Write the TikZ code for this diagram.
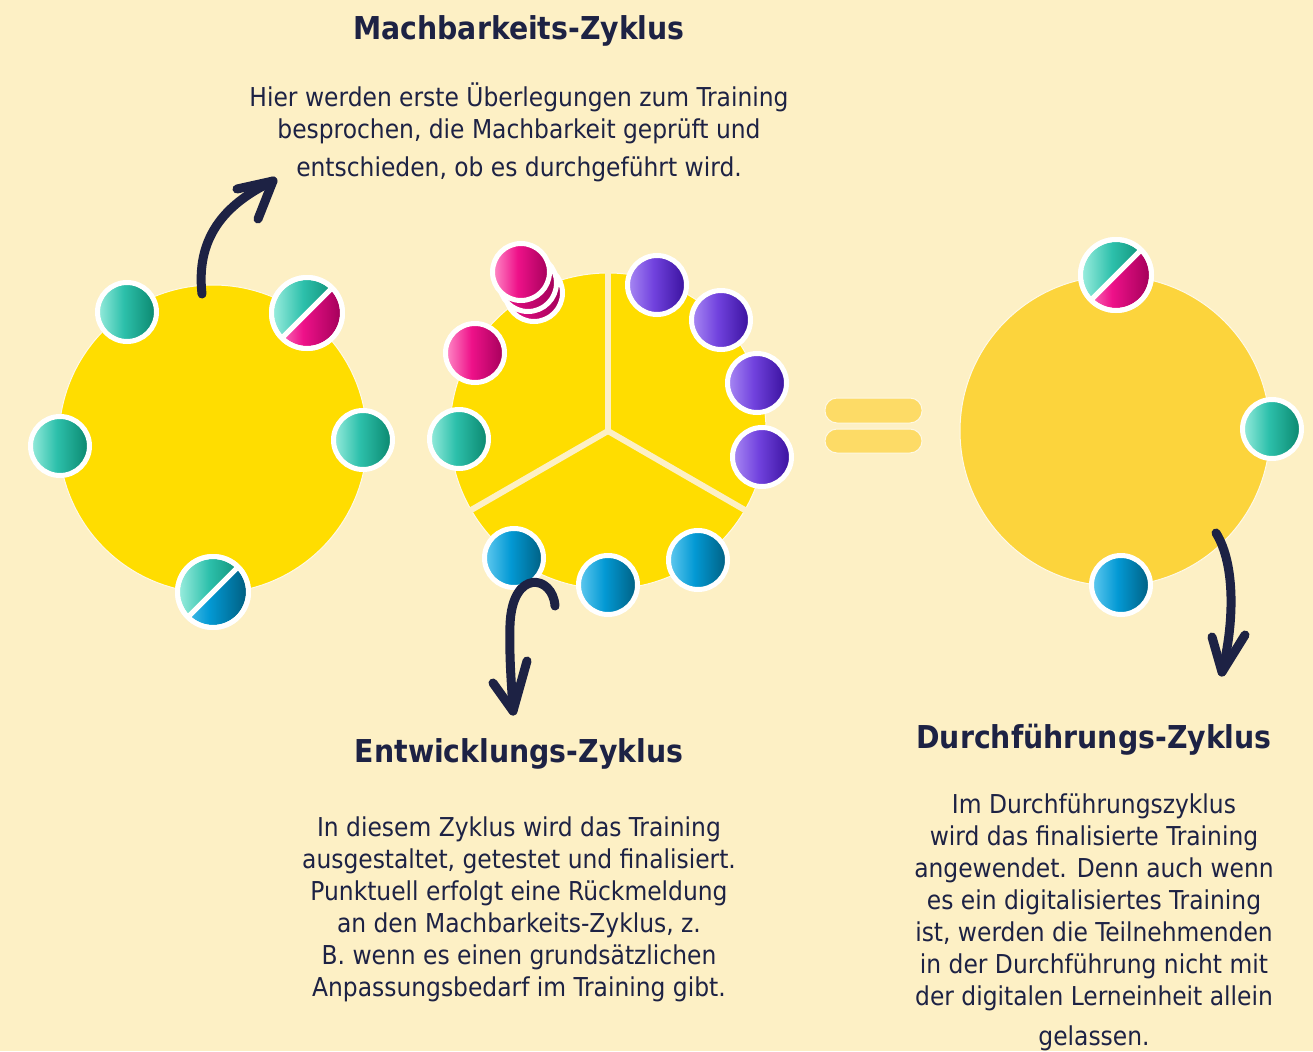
\documentclass[tikz,border=0pt]{standalone}
\usepackage{fontspec}
\setmainfont{DejaVu Sans Condensed}
\usetikzlibrary{calc}
\definecolor{bg}{HTML}{FDF0C5}
\definecolor{ink}{HTML}{1D2244}
\definecolor{sunA}{HTML}{FFDD00}
\definecolor{sunB}{HTML}{FCD43C}
\definecolor{eqc}{HTML}{FDDB66}
\definecolor{tealL}{HTML}{98ECDD}
\definecolor{tealM}{HTML}{2DC0AB}
\definecolor{tealR}{HTML}{0A866D}
\definecolor{pinkL}{HTML}{FF8CC8}
\definecolor{pinkM}{HTML}{EE1189}
\definecolor{pinkR}{HTML}{A3005A}
\definecolor{purpL}{HTML}{A98AF4}
\definecolor{purpM}{HTML}{7142DE}
\definecolor{purpR}{HTML}{38109C}
\definecolor{bluL}{HTML}{62CAF0}
\definecolor{bluM}{HTML}{0399D4}
\definecolor{bluR}{HTML}{005E80}
\pgfdeclarehorizontalshading{tealsh}{100bp}{color(0bp)=(tealL); color(25bp)=(tealL); color(47bp)=(tealM); color(75bp)=(tealR); color(100bp)=(tealR)}
\pgfdeclarehorizontalshading{pinksh}{100bp}{color(0bp)=(pinkL); color(25bp)=(pinkL); color(47bp)=(pinkM); color(75bp)=(pinkR); color(100bp)=(pinkR)}
\pgfdeclarehorizontalshading{purpsh}{100bp}{color(0bp)=(purpL); color(25bp)=(purpL); color(47bp)=(purpM); color(75bp)=(purpR); color(100bp)=(purpR)}
\pgfdeclarehorizontalshading{blush}{100bp}{color(0bp)=(bluL); color(25bp)=(bluL); color(47bp)=(bluM); color(75bp)=(bluR); color(100bp)=(bluR)}
\pgfdeclarehorizontalshading{pinkdk}{100bp}{color(0bp)=(pinkM); color(25bp)=(pinkM); color(75bp)=(pinkR); color(100bp)=(pinkR)}
\tikzset{
  dotnode/.style={circle, inner sep=0pt, outer sep=0pt, draw=white, line width=5pt},
  bigcirc/.style={circle, inner sep=0pt, draw=white!60!bg, line width=1pt},
  arr/.style={draw=ink, line width=9pt, line cap=round, line join=round},
  ttl/.style={text=ink, font=\fontsize{31.5}{38}\selectfont\bfseries, align=center},
  para/.style={text=ink, font=\fontsize{26}{32}\selectfont, align=center},
  eqbar/.style={fill=eqc, draw=white!50!bg, line width=1pt, rounded corners=12pt}
}
\newcommand\pdot[3]{\node[dotnode, shading=#3sh, minimum size=59pt] (#1) at (#2) {};}
\newcommand\sdot[3]{%
  \node[dotnode, fill=white, minimum size=71pt] (#1) at (#2) {};
  \begin{scope}
    \clip (#2) circle (33);
    \shade[shading=tealsh] ($(#2)+(-34,34)$) -- ($(#2)+(34,-34)$) -- ($(#2)+(-34,-34)$) -- cycle;
    \shade[shading=#3sh] ($(#2)+(-34,34)$) -- ($(#2)+(34,-34)$) -- ($(#2)+(34,34)$) -- cycle;
    \draw[white, line width=5pt] ($(#2)+(-40,40)$) -- ($(#2)+(40,-40)$);
  \end{scope}
  \draw[white, line width=5pt] (#2) circle (35.5);
}
\begin{document}
\begin{tikzpicture}[x=1pt,y=-1pt]
\useasboundingbox[fill=bg] (0,0) rectangle (1313,1051);

% big circles
\node[bigcirc, fill=sunA, minimum size=308pt] (cA) at (213,439) {};
\node[bigcirc, fill=sunA, minimum size=316pt] (cB) at (608,431) {};
\node[bigcirc, fill=sunB, minimum size=310pt] (cC) at (1115,431) {};
% sector gaps of the middle circle
\coordinate (mc) at (608,431);
\draw[bg, line width=6pt] (mc) -- ++(0,-162);
\draw[bg, line width=6pt] (mc) -- ++(30:162);
\draw[bg, line width=6pt] (mc) -- ++(150:162);

% equals sign
\draw[eqbar] (825,398) rectangle (922,423);
\draw[eqbar] (825,429) rectangle (922,453);

% left circle dots
\pdot{a1}{127,312}{teal}
\sdot{a2}{307,313}{pink}
\pdot{a3}{60,446}{teal}
\pdot{a4}{363,440}{teal}
\sdot{a5}{213,592}{blu}

% middle circle dots
\node[dotnode, shading=pinkdk, minimum size=57pt] (s3) at (534,293) {};
\node[dotnode, shading=pinkdk, minimum size=57pt] (s2) at (528,283) {};
\node[dotnode, shading=pinksh, minimum size=57pt] (s1) at (521,272) {};
\pdot{b1}{475,353}{pink}
\pdot{b2}{459,439}{teal}
\pdot{b3}{657,285}{purp}
\pdot{b4}{721,320}{purp}
\pdot{b5}{757,383}{purp}
\pdot{b6}{762,457}{purp}
\pdot{b7}{514,558}{blu}
\pdot{b8}{608,585}{blu}
\pdot{b9}{698,560}{blu}

% right circle dots
\sdot{c1}{1116,275}{pink}
\pdot{c2}{1272,429}{teal}
\pdot{c3}{1121,585}{blu}

% arrows
\coordinate (p1s) at (202,294);
\coordinate (p1e) at (273,181);
\draw[arr] (p1s) .. controls (196,240) and (222,205) .. (p1e);
\draw[arr] (237,189) -- (p1e) -- (258,219);

\coordinate (p2s) at (555,606);
\coordinate (p2e) at (513,711);
\draw[arr] (p2s) .. controls (553,575) and (512,568) .. (510,625) .. controls (509,660) and (512,690) .. (p2e);
\draw[arr] (493,683) -- (p2e) -- (527,661);

\coordinate (p3s) at (1216,533);
\coordinate (p3e) at (1222,672);
\draw[arr] (p3s) .. controls (1236,565) and (1234,625) .. (p3e);
\draw[arr] (1212,637) -- (p3e) -- (1245,635);

% texts
\node[ttl] (t1) at (519,31) {Machbarkeits-Zyklus};
\node[para] (d1) at (519,132) {Hier werden erste Überlegungen zum Training\\ besprochen, die Machbarkeit geprüft und\\[6pt] entschieden, ob es durchgeführt wird.};
\node[ttl] (t2) at (519,754) {Entwicklungs-Zyklus};
\node[para] (d2) at (519,909) {In diesem Zyklus wird das Training\\ ausgestaltet, getestet und finalisiert.\\ Punktuell erfolgt eine Rückmeldung\\ an den Machbarkeits-Zyklus, z.\\ B. wenn es einen grundsätzlichen\\ Anpassungsbedarf im Training gibt.};
\node[ttl] (t3) at (1094,740) {Durchführungs-Zyklus};
\node[para] (d3) at (1094,922) {Im Durchführungszyklus\\ wird das finalisierte Training\\ angewendet. Denn auch wenn\\ es ein digitalisiertes Training\\ ist, werden die Teilnehmenden\\ in der Durchführung nicht mit\\ der digitalen Lerneinheit allein\\[8pt] gelassen.};
\end{tikzpicture}
\end{document}
